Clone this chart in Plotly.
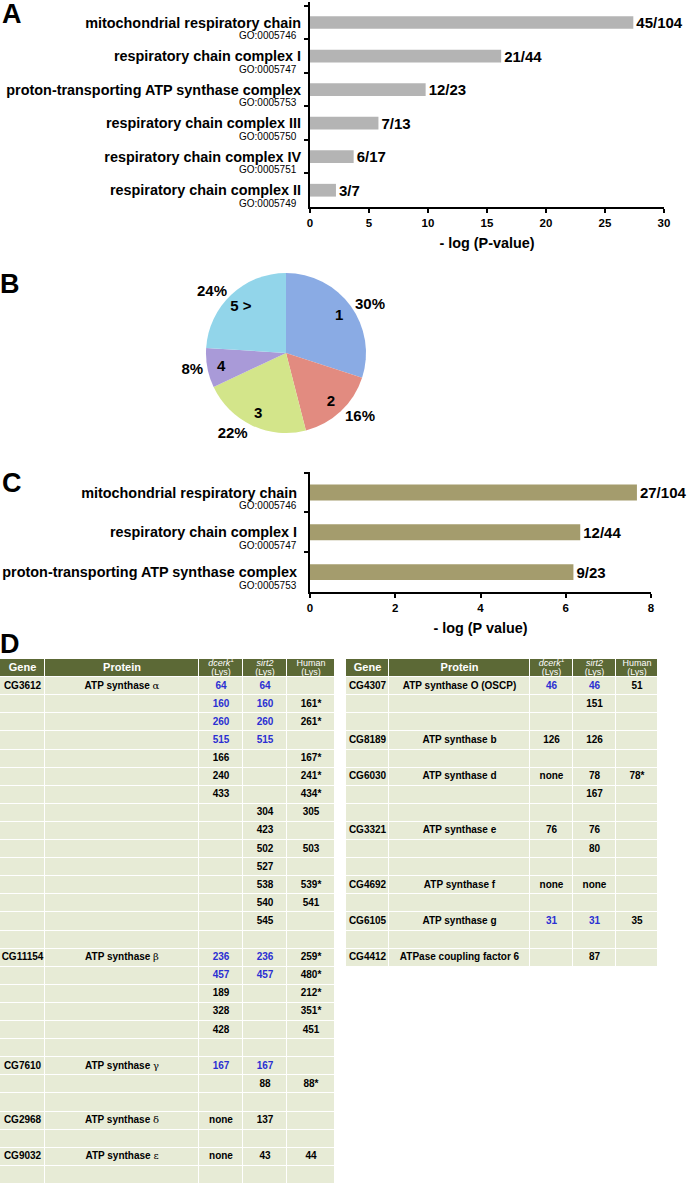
import plotly.graph_objects as go

# ---------------- data ----------------
A_terms = ["mitochondrial respiratory chain", "respiratory chain complex I",
           "proton-transporting ATP synthase complex", "respiratory chain complex III",
           "respiratory chain complex IV", "respiratory chain complex II"]
A_go = ["GO:0005746", "GO:0005747", "GO:0005753", "GO:0005750", "GO:0005751", "GO:0005749"]
A_values = [27.4, 16.2, 9.8, 5.8, 3.7, 2.2]
A_counts = ["45/104", "21/44", "12/23", "7/13", "6/17", "3/7"]

B_labels = ["1", "2", "3", "4", "5 >"]
B_values = [30, 16, 22, 8, 24]
B_colors = ["#8aabe4", "#e28b80", "#d3e58a", "#a99ad8", "#92d5ea"]

C_terms = ["mitochondrial respiratory chain ", "respiratory chain complex I ",
           "proton-transporting ATP synthase complex "]
C_go = ["GO:0005746", "GO:0005747", "GO:0005753"]
C_values = [7.67, 6.34, 6.18]
C_counts = ["27/104", "12/44", "9/23"]

D_header = ["<b>Gene</b>", "<b>Protein</b>", "", "", ""]
D_header_top = ["", "", "<i>dcerk</i><sup>1</sup>", "<i>sirt2</i>", "Human"]
D_header_sub = ["", "", "(Lys)", "(Lys)", "(Lys)"]

L_widths = [45, 154, 44, 44, 48]
L_gene = ["CG3612"] + [""] * 14 + ["CG11154"] + [""] * 5 + ["CG7610", "", "", "CG2968", "", "CG9032", ""]
L_protein = ["ATP synthase α"] + [""] * 14 + ["ATP synthase β"] + [""] * 5 + \
            ["ATP synthase γ", "", "", "ATP synthase δ", "", "ATP synthase ε", ""]
L_dcerk = ["64", "160", "260", "515", "166", "240", "433", "", "", "", "", "", "", "", "",
           "236", "457", "189", "328", "428", "", "167", "", "", "none", "", "none", ""]
L_sirt2 = ["64", "160", "260", "515", "", "", "", "304", "423", "502", "527", "538", "540", "545", "",
           "236", "457", "", "", "", "", "167", "88", "", "137", "", "43", ""]
L_human = ["", "161*", "261*", "", "167*", "241*", "434*", "305", "", "503", "", "539*", "541", "", "",
           "259*", "480*", "212*", "351*", "451", "", "", "88*", "", "", "", "44", ""]
L_shared = [1, 1, 1, 1, 0, 0, 0, 0, 0, 0, 0, 0, 0, 0, 0,
            1, 1, 0, 0, 0, 0, 1, 0, 0, 0, 0, 0, 0]

R_widths = [43, 141, 43, 43, 42]
R_gene = ["CG4307", "", "", "CG8189", "", "CG6030", "", "", "CG3321", "", "", "CG4692", "", "CG6105", "", "CG4412"]
R_protein = ["ATP synthase O (OSCP)", "", "", "ATP synthase b", "", "ATP synthase d", "", "",
             "ATP synthase e", "", "", "ATP synthase f", "", "ATP synthase g", "", "ATPase coupling factor 6"]
R_dcerk = ["46", "", "", "126", "", "none", "", "", "76", "", "", "none", "", "31", "", ""]
R_sirt2 = ["46", "151", "", "126", "", "78", "167", "", "76", "80", "", "none", "", "31", "", "87"]
R_human = ["51", "", "", "", "", "78*", "", "", "", "", "", "", "", "35", "", ""]
R_shared = [1, 0, 0, 0, 0, 0, 0, 0, 0, 0, 0, 0, 0, 1, 0, 0]

# ---------------- styling ----------------
W, H = 687, 1187
ARIAL = "Liberation Sans, Arial, Helvetica, sans-serif"
BLUE = "#2b2fd2"
HEAD_BG = "#5c6936"
CELL_BG = "#e7ebd6"


def px(x):
    return x / W


def py(y):
    return 1 - y / H


fig = go.Figure()

val_font = dict(family=ARIAL, size=15, color="black", weight="bold")

# Panel A
fig.add_trace(go.Bar(
    y=A_terms, x=A_values, orientation="h", width=0.38,
    marker=dict(color="#b4b4b4", line=dict(width=0)),
    text=A_counts, textposition="outside", cliponaxis=False, constraintext="none",
    textfont=val_font, xaxis="x", yaxis="y", hoverinfo="skip"))

# Panel C
fig.add_trace(go.Bar(
    y=C_terms, x=C_values, orientation="h", width=0.4,
    marker=dict(color="#a49c6d", line=dict(width=0)),
    text=C_counts, textposition="outside", cliponaxis=False, constraintext="none",
    textfont=val_font, xaxis="x2", yaxis="y2", hoverinfo="skip"))

# Panel B pie
cx, cy, r = 286, 353, 80
pie_dom = dict(x=[px(cx - r), px(cx + r)], y=[py(cy + r), py(cy - r)])
pie_common = dict(labels=B_labels, values=B_values, sort=False, direction="clockwise", rotation=0,
                  domain=pie_dom, showlegend=False, hoverinfo="skip")
fig.add_trace(go.Pie(marker=dict(colors=B_colors, line=dict(width=0)), textinfo="none", **pie_common))
fig.add_trace(go.Pie(marker=dict(colors=["rgba(0,0,0,0)"] * 5, line=dict(width=0)), hole=0.64,
                     texttemplate="<b>%{label}</b>", textposition="inside",
                     insidetextorientation="horizontal",
                     insidetextfont=dict(family=ARIAL, size=15, color="black"), **pie_common))
fig.add_trace(go.Pie(marker=dict(colors=["rgba(0,0,0,0)"] * 5, line=dict(width=0)),
                     texttemplate="<b>%{value}%</b>", textposition="outside",
                     outsidetextfont=dict(family=ARIAL, size=15, color="black"), **pie_common))


# Panel D tables (heatmap grid + text)
def edges(widths):
    e = [0]
    for w_ in widths:
        e.append(e[-1] + w_)
    return e


def prot(p):
    if not p:
        return ""
    if p[-1] in "αβγδε":
        return f"<b>{p[:-1]}</b><span style=\"font-family:DejaVu Serif;font-weight:normal\">{p[-1]}</span>"
    return f"<b>{p}</b>"


def header_text(xc, texts, ypos, size, xa, ya):
    keep = [i for i, t in enumerate(texts) if t]
    fig.add_trace(go.Scatter(x=[xc[i] for i in keep], y=[ypos] * len(keep), mode="text",
                             text=[texts[i] for i in keep],
                             textfont=dict(family=ARIAL, size=size, color="white"),
                             hoverinfo="skip", xaxis=xa, yaxis=ya))


def add_table(widths, gene, protein, dcerk, sirt2, human, shared, xa, ya):
    n = len(gene)
    xe = edges(widths)
    ye = list(range(n + 2))
    z = [[1] * 5] + [[0] * 5 for _ in range(n)]
    fig.add_trace(go.Heatmap(x=xe, y=ye, z=z, colorscale=[[0, CELL_BG], [1, HEAD_BG]],
                             zmin=0, zmax=1, showscale=False, xgap=1, ygap=1,
                             hoverinfo="skip", xaxis=xa, yaxis=ya))
    xc = [(xe[i] + xe[i + 1]) / 2 for i in range(5)]
    header_text(xc, D_header, 0.5, 11, xa, ya)
    header_text(xc, D_header_top, 0.27, 9, xa, ya)
    header_text(xc, D_header_sub, 0.76, 9, xa, ya)
    xs, ys, ts, cs = [], [], [], []
    cols = [gene, [prot(p) for p in protein], dcerk, sirt2, human]
    for j, col in enumerate(cols):
        for i, v in enumerate(col):
            if not v:
                continue
            xs.append(xc[j])
            ys.append(i + 1.5)
            ts.append(v if j == 1 else f"<b>{v}</b>")
            cs.append(BLUE if (j in (2, 3) and shared[i]) else "black")
    fig.add_trace(go.Scatter(x=xs, y=ys, mode="text", text=ts,
                             textfont=dict(family=ARIAL, size=10, color=cs),
                             hoverinfo="skip", xaxis=xa, yaxis=ya))
    return xe[-1], n + 1


Lw, Ln = add_table(L_widths, L_gene, L_protein, L_dcerk, L_sirt2, L_human, L_shared, "x3", "y3")
Rw, Rn = add_table(R_widths, R_gene, R_protein, R_dcerk, R_sirt2, R_human, R_shared, "x4", "y4")

ROW = 18.1
TOP = 659

# axes
lab_font = dict(family=ARIAL, size=14.4, color="black", weight="bold")
tick_font = dict(family=ARIAL, size=11.5, color="black", weight="bold")
common_y = dict(type="category", autorange="reversed", ticks="outside", tickson="boundaries",
                ticklen=4, tickwidth=1.5, tickcolor="black", showline=True, linecolor="black",
                linewidth=2, showgrid=False, tickfont=lab_font, ticklabelstandoff=4,
                fixedrange=True, automargin=False)
common_x = dict(ticks="outside", ticklen=4, tickwidth=1.5, tickcolor="black", showline=True,
                linecolor="black", linewidth=2, showgrid=False, zeroline=False, tickfont=tick_font,
                fixedrange=True, automargin=False)
hidden = dict(visible=False, showgrid=False, zeroline=False, fixedrange=True, automargin=False)

fig.update_layout(
    width=W, height=H, margin=dict(l=0, r=0, t=0, b=0, autoexpand=False),
    paper_bgcolor="white", plot_bgcolor="rgba(0,0,0,0)", showlegend=False,
    xaxis=dict(domain=[px(310), px(664)], anchor="y", range=[0, 30], dtick=5,
               title=dict(text="- log (P-value)", font=lab_font, standoff=10), **common_x),
    yaxis=dict(domain=[py(207), py(2)], anchor="x", **common_y),
    xaxis2=dict(domain=[px(310), px(651)], anchor="y2", range=[0, 8], dtick=2,
                title=dict(text="- log (P value)", font=lab_font, standoff=10), **common_x),
    yaxis2=dict(domain=[py(592), py(472)], anchor="x2", **common_y),
    xaxis3=dict(domain=[px(0), px(Lw)], anchor="y3", range=[0, Lw], **hidden),
    yaxis3=dict(domain=[py(TOP + Ln * ROW), py(TOP)], anchor="x3", range=[Ln, 0], **hidden),
    xaxis4=dict(domain=[px(346), px(346 + Rw)], anchor="y4", range=[0, Rw], **hidden),
    yaxis4=dict(domain=[py(TOP + Rn * ROW), py(TOP)], anchor="x4", range=[Rn, 0], **hidden),
)

annotations = []
go_font = dict(family=ARIAL, size=10, color="black")
for t, g in zip(A_terms, A_go):
    annotations.append(dict(x=0, y=t, xref="x", yref="y", text=g, showarrow=False,
                            xanchor="right", yanchor="middle", xshift=-11, yshift=-13, font=go_font))
for t, g in zip(C_terms, C_go):
    annotations.append(dict(x=0, y=t, xref="x2", yref="y2", text=g, showarrow=False,
                            xanchor="right", yanchor="middle", xshift=-11, yshift=-13, font=go_font))
for letter, (lx, ly) in zip("ABCD", [(12, 14), (10, 284), (12, 483), (10, 644)]):
    annotations.append(dict(x=px(lx), y=py(ly), xref="paper", yref="paper", text=f"<b>{letter}</b>",
                            showarrow=False, xanchor="center", yanchor="middle",
                            font=dict(family=ARIAL, size=27, color="black")))
fig.update_layout(annotations=annotations)

fig.write_html("out.html", config={"displayModeBar": False},
               post_script="document.body.style.margin='0';document.body.style.padding='0';")
